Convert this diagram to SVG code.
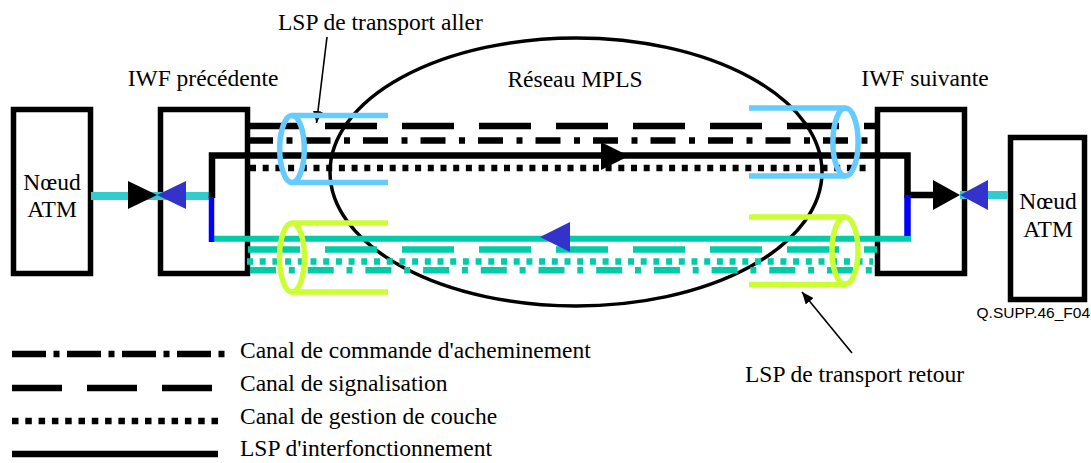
<svg xmlns="http://www.w3.org/2000/svg" width="1091" height="463" viewBox="0 0 1091 463">
<style>
text{font-family:"Liberation Serif","Times New Roman",serif;font-size:23.5px;fill:#000}
.box{fill:#fff;stroke:#000;stroke-width:5.5}
.ch{fill:none;stroke-width:6.5}
.k{stroke:#000}
.t{stroke:#00CCAA}
.sig{stroke-dasharray:52 25}
.dot{stroke-dasharray:6 6.7}
.blue{fill:none;stroke:#66CCFF;stroke-width:5.5}
.green{fill:none;stroke:#CCFF33;stroke-width:5.5}
.ptr{stroke:#000;stroke-width:1.6;fill:none;marker-end:url(#ah)}
</style>
<defs>
<marker id="ah" viewBox="0 0 12 10" refX="12" refY="5" markerWidth="12" markerHeight="10" markerUnits="userSpaceOnUse" orient="auto">
<path d="M0,0 L12,5 L0,10 z" fill="#000"/>
</marker>
</defs>
<rect width="1091" height="463" fill="#fff"/>
<g id="mpls">
<ellipse cx="576" cy="172" rx="246" ry="134" fill="none" stroke="#000" stroke-width="3.5"/>
<text x="575" y="87" text-anchor="middle">Réseau MPLS</text>
</g>
<g id="atm-left">
<rect class="box" x="13.5" y="109.5" width="77" height="164"/>
<text x="52" y="190" text-anchor="middle">Nœud</text>
<text x="52" y="217" text-anchor="middle">ATM</text>
</g>
<g id="iwf-left">
<rect class="box" x="160.5" y="109.5" width="87" height="164"/>
<text x="203" y="86" text-anchor="middle">IWF précédente</text>
</g>
<g id="iwf-right">
<rect class="box" x="877.5" y="109.5" width="87" height="164"/>
<text x="925" y="86" text-anchor="middle">IWF suivante</text>
</g>
<g id="atm-right">
<rect class="box" x="1010.5" y="137.5" width="74" height="162"/>
<text x="1048" y="209" text-anchor="middle">Nœud</text>
<text x="1048" y="237" text-anchor="middle">ATM</text>
</g>
<g id="connectors">
<!-- ATM links -->
<line x1="91" y1="196" x2="212" y2="196" stroke="#33CCCC" stroke-width="8"/>
<line x1="960" y1="195" x2="1008" y2="195" stroke="#33CCCC" stroke-width="8"/>
<!-- top channels -->
<line class="ch k sig" x1="248" y1="126" x2="877" y2="126"/>
<line class="ch k" x1="248" y1="140.5" x2="868" y2="140.5" stroke-dasharray="25 13.5 6 13"/>
<polyline class="ch" stroke="#000" stroke-width="7" points="212,198 212,155.5 907.5,155.5 907.5,195 935,195"/>
<line class="ch k dot" x1="250" y1="168" x2="868" y2="168"/>
<!-- bottom channels -->
<line x1="212" y1="238.7" x2="911" y2="238.7" stroke="#00CCAA" stroke-width="6"/>
<line x1="211.5" y1="197" x2="211.5" y2="242" stroke="#0000FF" stroke-width="5.5"/>
<line x1="907.5" y1="195" x2="907.5" y2="236" stroke="#0000FF" stroke-width="6.5"/>
<line class="ch t sig" x1="248" y1="249.5" x2="877" y2="249.5"/>
<line class="ch t dot" x1="247" y1="261.5" x2="873" y2="261.5"/>
<line class="ch t" x1="250" y1="270.3" x2="872" y2="270.3" stroke-dasharray="26 12.8 6 12.9"/>
<!-- arrowheads -->
<polygon points="128,181 128,209 157,195" fill="#000"/>
<polygon points="157,195 186,181 186,209" fill="#3333CC"/>
<polygon points="933,180 933,210 960,195" fill="#000"/>
<polygon points="960,195 988,180 988,210" fill="#3333CC"/>
<polygon points="601,142 601,170 629,156" fill="#000"/>
<polygon points="540,237 570,222 570,252" fill="#3333CC"/>
<!-- pointers -->
<line class="ptr" x1="327" y1="37" x2="316.5" y2="123"/>
<line class="ptr" x1="852" y1="353" x2="802" y2="292"/>
</g>
<g id="lsp-aller">
<path class="blue" d="M292,115.5 H388 M292,182.5 H388"/>
<ellipse class="blue" cx="292" cy="149" rx="12.3" ry="33.5"/>
<path class="blue" d="M749,108 H845.5 M749,176 H845.5"/>
<ellipse class="blue" cx="845.5" cy="142" rx="12.6" ry="34"/>
<text x="278" y="30">LSP de transport aller</text>
</g>
<g id="lsp-retour">
<path class="green" d="M292,223 H388 M292,292 H388"/>
<ellipse class="green" cx="292" cy="257.5" rx="12.5" ry="34.5"/>
<path class="green" d="M749,217 H845 M749,284.5 H845"/>
<ellipse class="green" cx="845" cy="250.7" rx="13" ry="33.7"/>
<text x="745" y="382">LSP de transport retour</text>
</g>
<g id="ref">
<text x="1090" y="318" text-anchor="end" style="font-family:'Liberation Sans',Arial,sans-serif;font-size:15.5px">Q.SUPP.46_F04</text>
</g>
<g id="legend">
<line class="ch k" x1="12" y1="354" x2="225" y2="354" stroke-dasharray="34 7.5 6 7.5"/>
<line class="ch k" x1="12" y1="388" x2="212" y2="388" stroke-dasharray="50 25"/>
<line class="ch k" x1="12" y1="421" x2="218" y2="421" stroke-dasharray="6.5 6.8"/>
<line class="ch k" x1="12" y1="454" x2="218" y2="454"/>
<text x="240" y="358">Canal de commande d'acheminement</text>
<text x="240" y="391">Canal de signalisation</text>
<text x="240" y="424">Canal de gestion de couche</text>
<text x="240" y="456">LSP d'interfonctionnement</text>
</g>
</svg>
